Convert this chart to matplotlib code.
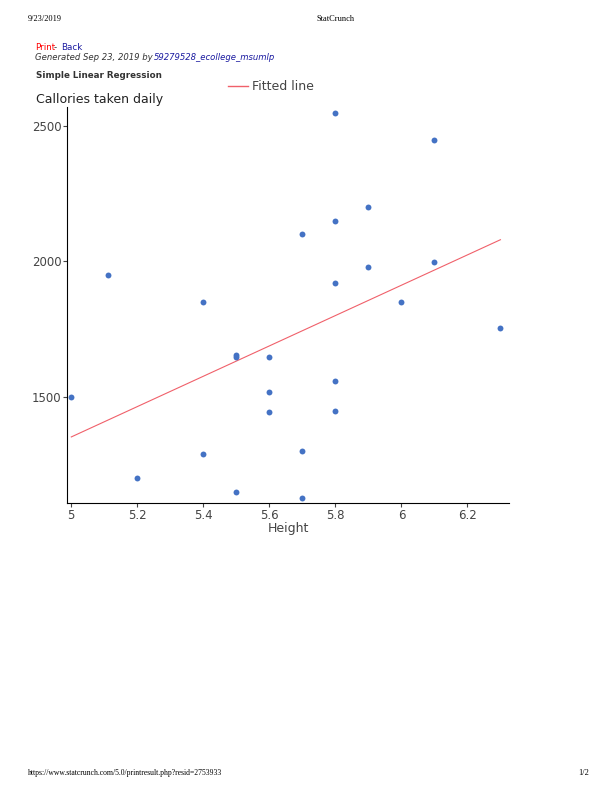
import matplotlib
matplotlib.use("Agg")
import matplotlib.pyplot as plt
import numpy as np

height = [5.8, 6.1, 5.9, 5.8, 5.7, 6.1, 5.9, 5.11, 5.8, 5.4, 6.0, 6.3, 5.5, 5.5, 5.6,
          5.8, 5.6, 5.8, 5.6, 5.0, 5.7, 5.4, 5.2, 5.5, 5.7]
calories = [2547, 2447, 2199, 2149, 2100, 1999, 1979, 1948, 1919, 1850, 1850, 1753, 1653, 1647, 1648,
            1559, 1517, 1448, 1443, 1498, 1299, 1288, 1200, 1149, 1127]
xticks = [5, 5.2, 5.4, 5.6, 5.8, 6, 6.2]
xticklabels = ["5", "5.2", "5.4", "5.6", "5.8", "6", "6.2"]
yticks = [1500, 2000, 2500]

W, H = 612, 792
fig = plt.figure(figsize=(W/100, H/100), dpi=100)
ax = fig.add_axes([67/W, 1-503/H, (509-67)/W, (503-107)/H])

x = np.array(height); y = np.array(calories)
b, a = np.polyfit(x, y, 1)
xl = np.array([5.0, 6.3])
ax.plot(xl, a + b*xl, color="#f0606a", lw=0.8)
ax.scatter(x, y, s=18, color="#4472c4", zorder=3, linewidths=0)
ax.set_xlim(4.987, 6.326)
ax.set_ylim(1109, 2569)
ax.set_xticks(xticks, xticklabels)
ax.set_yticks(yticks)
for s in ["top", "right"]:
    ax.spines[s].set_visible(False)
ax.tick_params(labelsize=8.5, colors="#444444", length=3, pad=1)
ax.set_xlabel("Height", fontsize=9, color="#444444", labelpad=0)

fig.text(36/W, 1-100/H, "Callories taken daily", fontsize=9, color="#222222", va="center")
fig.add_artist(plt.Line2D([228/W, 248/W], [1-86/H]*2, color="#f0606a", lw=1))
fig.text(252/W, 1-86/H, "Fitted line", fontsize=9, color="#444444", va="center")

fig.text(28/W, 1-19/H, "9/23/2019", fontsize=6, family="Liberation Serif", va="center")
fig.text(316/W, 1-19/H, "StatCrunch", fontsize=6, family="Liberation Serif", va="center")
fig.text(35/W, 1-48/H, "Print", fontsize=6.3, color="red", va="center")
fig.text(54/W, 1-48/H, "-", fontsize=6.3, color="#333333", va="center")
fig.text(61/W, 1-48/H, "Back", fontsize=6.3, color="#1a1aa0", va="center")
fig.text(35/W, 1-58/H, "Generated Sep 23, 2019 by", fontsize=6.1, style="italic", color="#333333", va="center")
fig.text(154/W, 1-58/H, "59279528_ecollege_msumlp", fontsize=6.1, style="italic", color="#1a1aa0", va="center")
fig.text(36/W, 1-76/H, "Simple Linear Regression", fontsize=6.3, weight="bold", color="#333333", va="center")
fig.text(28/W, 1-773/H, "https://www.statcrunch.com/5.0/printresult.php?resid=2753933", fontsize=5.5, family="Liberation Serif", va="center")
fig.text(578/W, 1-773/H, "1/2", fontsize=6, family="Liberation Serif", va="center")

fig.savefig("out.png", dpi=100)
